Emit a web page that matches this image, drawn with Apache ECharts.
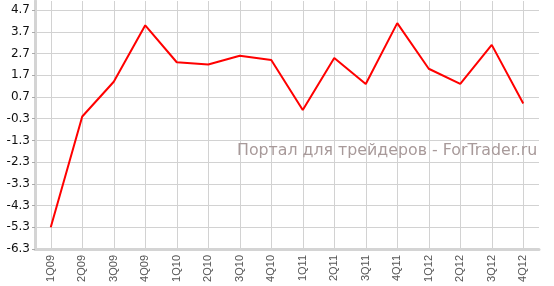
<!DOCTYPE html>
<html>
<head>
<meta charset="utf-8">
<script src="https://cdn.jsdelivr.net/npm/echarts@6/dist/echarts.min.js"></script>
<style>html,body{margin:0;padding:0;background:#fff;}#c{width:554px;height:286px;}</style>
</head>
<body>
<div id="c"></div>
<script>
const categories = ['1Q09','2Q09','3Q09','4Q09','1Q10','2Q10','3Q10','4Q10','1Q11','2Q11','3Q11','4Q11','1Q12','2Q12','3Q12','4Q12'];
const values = [-5.3, -0.2, 1.4, 4.0, 2.3, 2.2, 2.6, 2.4, 0.1, 2.5, 1.3, 4.1, 2.0, 1.3, 3.1, 0.4];
const yTicks = [-6.3, -5.3, -4.3, -3.3, -2.3, -1.3, -0.3, 0.7, 1.7, 2.7, 3.7, 4.7];
const watermark = 'Портал для трейдеров - ForTrader.ru';

const chart = echarts.init(document.getElementById('c'), null, {renderer: 'canvas'});
chart.setOption({
  animation: false,
  backgroundColor: '#fff',
  grid: {left: 35, right: 15, top: 1, bottom: 37},
  xAxis: {
    type: 'category',
    data: categories,
    boundaryGap: true,
    axisLine: {onZero: false, lineStyle: {color: '#d4d4d4', width: 3}},
    axisTick: {show: false},
    axisLabel: {rotate: 90, interval: 0, margin: 6, fontFamily: 'Liberation Sans', fontSize: 11, color: '#555'},
    splitLine: {show: true, alignWithLabel: true, lineStyle: {color: '#d2d2d2', width: 1}}
  },
  yAxis: {
    type: 'value',
    min: -6.3,
    max: 5.12,
    axisLine: {show: true, lineStyle: {color: '#d4d4d4', width: 3}},
    axisTick: {show: true, length: 3, customValues: yTicks, lineStyle: {color: '#aaa'}},
    axisLabel: {customValues: yTicks, margin: 5, fontFamily: 'DejaVu Sans', fontSize: 12, color: '#111', formatter: v => v.toFixed(1)},
    splitLine: {show: true, lineStyle: {color: '#d2d2d2', width: 1}}
  },
  graphic: [{
    type: 'text', left: 237, top: 143, z: 10,
    style: {text: watermark, font: '15.8px "DejaVu Sans"', fill: '#a89a9a'}
  }],
  series: [{
    type: 'line',
    data: values,
    showSymbol: false,
    symbol: 'none',
    lineStyle: {color: '#ff0000', width: 2},
    z: 5
  }]
});
</script>
</body>
</html>
